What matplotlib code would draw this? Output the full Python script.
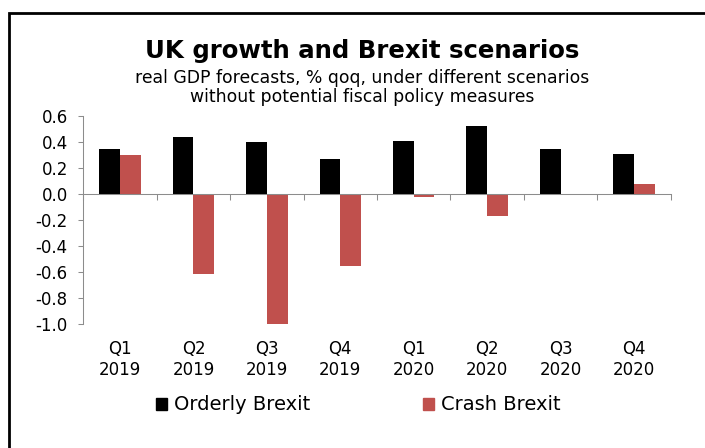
import matplotlib
matplotlib.use("Agg")
import matplotlib.pyplot as plt
import matplotlib.patches as mpatches
import numpy as np

# 季度與兩種情境的 GDP 預測 (% qoq)
quarters = ["Q1", "Q2", "Q3", "Q4", "Q1", "Q2", "Q3", "Q4"]
years = ["2019", "2019", "2019", "2019", "2020", "2020", "2020", "2020"]
orderly = [0.35, 0.44, 0.40, 0.27, 0.41, 0.52, 0.35, 0.31]
crash = [0.30, -0.61, -1.00, -0.55, -0.02, -0.17, 0.00, 0.08]
yticks = [0.6, 0.4, 0.2, 0.0, -0.2, -0.4, -0.6, -0.8, -1.0]

black = "#000000"
red = "#C0504D"
axis_gray = "#8C8C8C"

plt.rcParams["font.family"] = ["DejaVu Sans"]
plt.rcParams["axes.unicode_minus"] = False

fig = plt.figure(figsize=(7.05, 4.48), dpi=100)
ax = fig.add_axes([0.1182, 0.2761, 0.8331, 0.4650])

x = np.arange(len(quarters))
w = 0.283
ax.bar(x - w / 2, orderly, width=w, color=black, label="Orderly Brexit")
ax.bar(x + w / 2, crash, width=w, color=red, label="Crash Brexit")

ax.set_xlim(-0.5, len(quarters) - 0.5)
ax.set_ylim(-1.0, 0.6)

# 左軸
ax.set_yticks(yticks)
ax.set_yticklabels([f"{v:.1f}" for v in yticks], fontsize=12)
ax.tick_params(axis="y", direction="out", length=3.8, width=0.75,
               color=axis_gray, pad=7.4)

# x 軸線放在 0，刻度在分類邊界
ax.spines["bottom"].set_position(("data", 0))
ax.set_xticks(np.arange(len(quarters) + 1) - 0.5)
ax.set_xticklabels([])
ax.tick_params(axis="x", direction="out", length=4, width=0.75, color=axis_gray)

for side in ["top", "right"]:
    ax.spines[side].set_visible(False)
for side in ["left", "bottom"]:
    ax.spines[side].set_color(axis_gray)
    ax.spines[side].set_linewidth(0.75)

# 分類標籤放在圖底
tr = ax.get_xaxis_transform()
for i in range(len(quarters)):
    ax.text(x[i], -0.1426, quarters[i], transform=tr, ha="center",
            va="baseline", fontsize=12)
    ax.text(x[i], -0.2434, years[i], transform=tr, ha="center",
            va="baseline", fontsize=12)

# 標題
fig.text(0.5135, 0.8699, "UK growth and Brexit scenarios", ha="center",
         va="baseline", fontsize=17.6, fontweight="bold")
fig.text(0.5135, 0.8154, "real GDP forecasts, % qoq, under different scenarios",
         ha="center", va="baseline", fontsize=12.4)
fig.text(0.5135, 0.7730, "without potential fiscal policy measures",
         ha="center", va="baseline", fontsize=12.4)

# 圖例
handles = [mpatches.Patch(color=black), mpatches.Patch(color=red)]
fig.legend(handles, ["Orderly Brexit", "Crash Brexit"], loc="center",
           bbox_to_anchor=(0.5085, 0.096), ncol=2, frameon=False,
           fontsize=14, handlelength=0.57, handleheight=0.57,
           handletextpad=0.36, columnspacing=5.8)

# 外框 (只看得到上邊和左邊)
frame = mpatches.Rectangle((0.01234, -0.1), 1.2, 0.9699 + 0.1,
                           transform=fig.transFigure, fill=False,
                           edgecolor="black", linewidth=2)
fig.add_artist(frame)

fig.savefig("out.png", dpi=100)
